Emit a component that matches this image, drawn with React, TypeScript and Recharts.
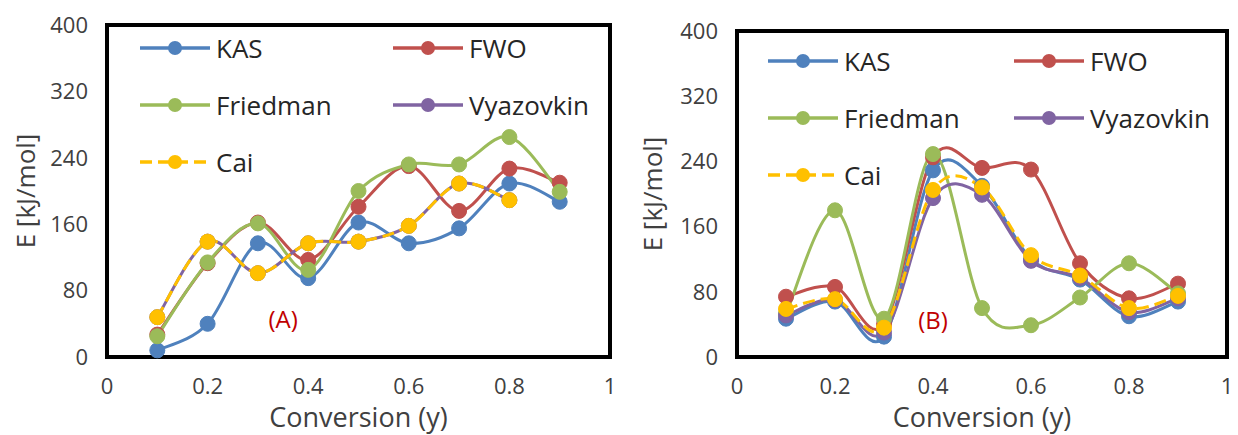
import React from 'react'
import { LineChart, Line, XAxis, YAxis, Legend, ReferenceArea, ReferenceDot } from 'recharts'

const conversion = [0.1, 0.2, 0.3, 0.4, 0.5, 0.6, 0.7, 0.8, 0.9]
const xTicks = [0, 0.2, 0.4, 0.6, 0.8, 1]
const yTicks = [0, 80, 160, 240, 320, 400]

// panel A
const kasA = [8, 40, 137, 95, 162, 137, 155, 209, 187]
const fwoA = [27, 113, 162, 117, 181, 230, 176, 227, 210]
const friedmanA = [25, 114, 161, 105, 200, 232, 232, 265, 199]
const vyazovkinA = [48, 139, 101, 137, 139, 158, 209, 189, null]
const caiA = [48, 139, 101, 137, 139, 158, 209, 189, null]

// panel B
const kasB = [47, 68, 25, 229, 210, 120, 95, 50, 68]
const fwoB = [74, 86, 40, 245, 232, 230, 115, 72, 90]
const friedmanB = [53, 180, 47, 249, 60, 39, 73, 115, 78]
const vyazovkinB = [51, 70, 30, 195, 199, 118, 97, 55, 72]
const caiB = [59, 71, 36, 205, 208, 125, 100, 60, 75]

const series = [
  { key: 'KAS', color: '#4F81BD', dash: undefined },
  { key: 'FWO', color: '#C0504D', dash: undefined },
  { key: 'Friedman', color: '#9BBB59', dash: undefined },
  { key: 'Vyazovkin', color: '#8064A2', dash: undefined },
  { key: 'Cai', color: '#FFC000', dash: '12 6' },
]

const toRows = (kas: any[], fwo: any[], fr: any[], vy: any[], cai: any[]) =>
  conversion.map((x, i) => ({ x, KAS: kas[i], FWO: fwo[i], Friedman: fr[i], Vyazovkin: vy[i], Cai: cai[i] }))

const dataA = toRows(kasA, fwoA, friedmanA, vyazovkinA, caiA)
const dataB = toRows(kasB, fwoB, friedmanB, vyazovkinB, caiB)

// excel-like smoothed line (catmull-rom through the points)
const excelSmooth = (context: any) => {
  let pts: number[][] = []
  return {
    areaStart() {},
    areaEnd() {},
    lineStart() { pts = [] },
    lineEnd() {
      const n = pts.length
      if (!n) return
      context.moveTo(pts[0][0], pts[0][1])
      for (let i = 0; i < n - 1; i++) {
        const p0 = pts[Math.max(i - 1, 0)]
        const p1 = pts[i]
        const p2 = pts[i + 1]
        const p3 = pts[Math.min(i + 2, n - 1)]
        context.bezierCurveTo(
          p1[0] + (p2[0] - p0[0]) / 6, p1[1] + (p2[1] - p0[1]) / 6,
          p2[0] - (p3[0] - p1[0]) / 6, p2[1] - (p3[1] - p1[1]) / 6,
          p2[0], p2[1],
        )
      }
    },
    point(x: number, y: number) { pts.push([+x, +y]) },
  }
}

function SeriesLegend({ payload, colWidth, rowHeight }: any) {
  // keep the series order (row by row, two columns)
  const items = series
    .map((s) => ({ s, item: (payload || []).find((p: any) => p.value === s.key) }))
    .filter((d) => d.item)
  return (
    <div style={{ display: 'grid', gridTemplateColumns: `${colWidth}px ${colWidth}px`, gridAutoRows: rowHeight }}>
      {items.map(({ s, item }: any) => (
        <div key={s.key} style={{ display: 'flex', alignItems: 'center' }}>
          <svg width={70} height={20}>
            <line x1={0} y1={10} x2={70} y2={10} stroke={s.color} strokeWidth={3.5} strokeDasharray={s.dash} />
            <circle cx={35} cy={10} r={7} fill={s.color} />
          </svg>
          <span style={{ marginLeft: 6, fontSize: 26, color: '#262626', lineHeight: 1 }}>{item.value}</span>
        </div>
      ))}
    </div>
  )
}

function Panel({ data, left, top, right, yAxisWidth, yTitleX, legendLeft, legendTop, colWidth, tag, tagX }: any) {
  const rowHeight = 57
  return (
    <div style={{ position: 'absolute', left, top: 0 }}>
      <LineChart width={619} height={435} data={data} margin={{ top, right, bottom: 0, left: 0 }}>
        <ReferenceArea x1={0} x2={1} y1={0} y2={400} fill="#fff" stroke="#000" strokeWidth={4} />
        <XAxis
          type="number" dataKey="x" domain={[0, 1]} ticks={xTicks} axisLine={false} tickLine={false}
          tickSize={0} tickMargin={21} height={78} tick={{ fontSize: 22, fill: '#404040' }}
          label={{ value: 'Conversion (y)', position: 'insideTop', offset: 51, fontSize: 27, fill: '#404040' }}
        />
        <YAxis
          type="number" domain={[0, 400]} ticks={yTicks} axisLine={false} tickLine={false}
          tickSize={0} tickMargin={19} width={yAxisWidth} tick={{ fontSize: 22, fill: '#404040' }}
          label={{ value: 'E [kJ/mol]', angle: -90, position: 'insideLeft', offset: yTitleX, fontSize: 26, fill: '#404040', style: { textAnchor: 'middle' } }}
        />
        <Legend
          layout="horizontal" verticalAlign="middle" align="center"
          wrapperStyle={{ left: legendLeft, top: legendTop - rowHeight / 2, width: colWidth * 2 }}
          content={(props: any) => <SeriesLegend payload={props.payload} colWidth={colWidth} rowHeight={rowHeight} />}
        />
        {series.map((s) => (
          <Line
            key={s.key} dataKey={s.key} name={s.key} type={excelSmooth as any} stroke={s.color} strokeWidth={3}
            strokeDasharray={s.dash} isAnimationActive={false}
            dot={{ r: 7.5, fill: s.color, stroke: s.color, strokeWidth: 1, strokeDasharray: 'none' }}
            activeDot={false}
          />
        ))}
        <ReferenceDot
          x={tagX} y={45} r={0} fill="none" stroke="none"
          label={{ value: tag, position: 'center', fontSize: 24, fill: '#C00000' }}
        />
      </LineChart>
    </div>
  )
}

export default function App() {
  return (
    <div style={{ position: 'absolute', left: 0, top: 0, width: 1238, height: 435, background: '#fff', fontFamily: '"Open Sans", sans-serif' }}>
      <Panel data={dataA} left={0} top={25} right={9} yAxisWidth={107} yTitleX={26}
        legendLeft={140} legendTop={48} colWidth={253} tag="(A)" tagX={0.35} />
      <Panel data={dataB} left={619} top={31} right={11} yAxisWidth={118} yTitleX={34}
        legendLeft={149} legendTop={61} colWidth={246} tag="(B)" tagX={0.40} />
    </div>
  )
}
